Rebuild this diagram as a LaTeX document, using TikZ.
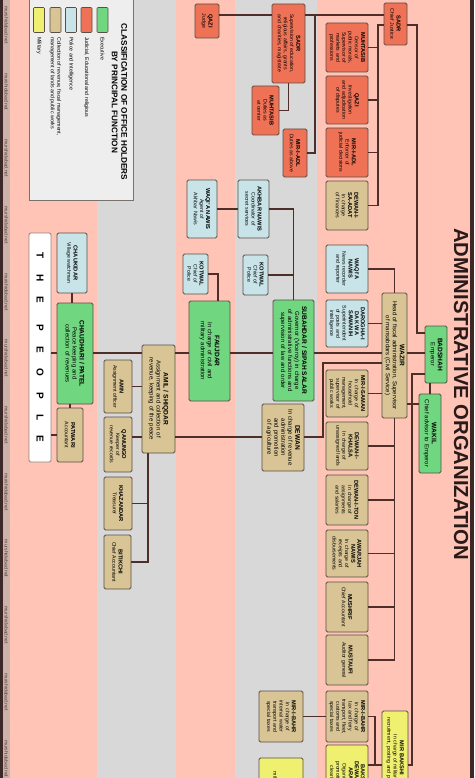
\documentclass[tikz,border=0pt]{standalone}
\usepackage{fontspec}
\setmainfont{Liberation Sans}
\usetikzlibrary{calc}
\hyphenpenalty=10000
\exhyphenpenalty=10000
\definecolor{salmon}{RGB}{255,196,181}
\definecolor{bggrey}{RGB}{216,216,216}
\definecolor{edgedark}{RGB}{60,40,38}
\definecolor{wmstrip}{RGB}{205,178,170}
\definecolor{wmtext}{RGB}{80,62,60}
\definecolor{cgreen}{RGB}{112,214,128}
\definecolor{cred}{RGB}{240,114,86}
\definecolor{cblue}{RGB}{200,228,232}
\definecolor{ctan}{RGB}{216,196,148}
\definecolor{cyellow}{RGB}{240,240,112}
\definecolor{boxline}{RGB}{90,78,70}
\definecolor{linkc}{RGB}{78,46,40}
\definecolor{legbg}{RGB}{238,238,238}
\definecolor{titlec}{RGB}{40,26,26}
\def\obts{5.7}
\newcommand\offbox[9][]{%
 \pgfmathsetmacro\obw{#6-#5}%
 \pgfmathsetmacro\obh{#4-#3}%
 \pgfmathsetmacro\obtw{#6-#5-7}%
 \pgfmathsetmacro\obx{(#3+#4)/2}%
 \pgfmathsetmacro\oby{(#5+#6)/2}%
 \node[ob, fill=#7, minimum width=\obw pt, minimum height=\obh pt, text width=\obtw pt, #1] (#2) at (\obx,\oby) {{\bfseries\fontsize{\obts}{6}\selectfont #8}\\#9};%
}
\tikzset{
 ob/.style={draw=boxline, line width=0.8pt, rounded corners=1.5pt, rotate=-90, align=center, inner sep=1pt, font=\fontsize{5.2}{6.2}\selectfont\def\obts{5.7}},
 bigob/.style={font=\fontsize{6}{7}\selectfont\def\obts{6.6}},
 link/.style={draw=linkc, line width=1.1pt},
 swatch/.style={draw=boxline, line width=0.7pt, rounded corners=1pt, minimum width=11pt, minimum height=25pt, inner sep=0pt},
 leglabel/.style={rotate=-90, anchor=west, inner sep=0pt, align=left, font=\fontsize{5.3}{6.3}\selectfont},
 wm/.style={rotate=-90, inner sep=0pt, font=\fontsize{5}{5.5}\selectfont, text=wmtext},
}
\begin{document}
\begin{tikzpicture}[x=1pt,y=-1pt]
\useasboundingbox (0,0) rectangle (474,778);
% background stripes
\fill[edgedark] (0,0) rectangle (3,778);
\fill[wmstrip] (3,0) rectangle (10,778);
\fill[salmon] (10,0) rectangle (97,778);
\fill[bggrey] (97,0) rectangle (176,778);
\fill[salmon] (176,0) rectangle (235,778);
\fill[bggrey] (235,0) rectangle (317,778);
\fill[salmon] (317,0) rectangle (470,778);
\fill[edgedark] (470,0) rectangle (474,778);
\foreach \k in {0,...,11}{
  \node[wm] (wm\k) at (6.5,{25+66.7*\k}) {murshidabad.net};
}
% title
\node[rotate=-90, inner sep=0pt, text=titlec, font=\fontsize{20.3}{24}\selectfont\bfseries] (title) at (461,394) {ADMINISTRATIVE ORGANIZATION};
% legend
\node[draw=boxline!80, fill=legbg, line width=0.8pt, minimum width=104pt, minimum height=205pt, inner sep=0pt] (legend) at (81,97.5) {};
\node[rotate=-90, align=center, inner sep=0pt, font=\fontsize{8.2}{9.5}\selectfont\bfseries] (legtitle) at (119.5,102) {CLASSIFICATION OF OFFICE HOLDERS\\BY PRINCIPAL FUNCTION};
\node[swatch, fill=cgreen] (sw1) at (102.5,20) {};
\node[swatch, fill=cred] (sw2) at (86.5,20) {};
\node[swatch, fill=cblue] (sw3) at (71,20) {};
\node[swatch, fill=ctan] (sw4) at (55.5,20) {};
\node[swatch, fill=cyellow] (sw5) at (39,20) {};
\node[leglabel] (lb1) at (102.5,37) {Executive};
\node[leglabel] (lb2) at (86.5,37) {Judicial, Educational and religious};
\node[leglabel] (lb3) at (71,37) {Police and Intelligence};
\node[leglabel] (lb4) at (55.5,37) {Collection of revenue, fiscal management,\\management of lands and public works};
\node[leglabel] (lb5) at (39,37) {Military};
% the people
\node[rotate=-90, draw=boxline!70, fill=white, line width=0.8pt, rounded corners=1.5pt, minimum width=229pt, minimum height=22pt, inner sep=0pt, font=\fontsize{10}{12}\selectfont\bfseries] (people) at (40,347.5) {T\hspace{15.4pt}H\hspace{15.4pt}E\hspace{21.3pt}P\hspace{15.4pt}E\hspace{15.4pt}O\hspace{15.4pt}P\hspace{15.4pt}L\hspace{15.4pt}E};
% central level
\offbox{sadrcj}{384}{407}{3}{45}{cred}{SADR}{Chief Justice}
\offbox{muhc}{326}{368}{23}{72}{cred}{MUHTASIB}{Censor of public morals, Supervisor of markets and professions}
\offbox{qazic}{326}{368}{76}{124}{cred}{QAZI}{Investigation and adjudication of disputes}
\offbox{miradlc}{326}{368}{128}{177}{cred}{MIR-I-ADL}{Enforcer of judicial decisions}
\offbox{dsa}{326}{368}{181}{230}{ctan}{DEWAN-I-\\SA-ADAT}{In charge of finances}
\offbox{waqiac}{326}{368}{245}{293}{cblue}{WAQI'A\\NAWIS}{News recorder and reporter}
\offbox{darogha}{326}{368}{300}{347}{cblue}{DAROGHA-I\\DAK WA\\SAWANIH}{Superintendent of posts and intelligence}
\offbox{mirsaman}{326}{368}{370}{417}{ctan}{MIR-I-SAMAN}{In charge of household management, supervisor of public works}
\offbox{dkhalsa}{326}{368}{422}{470}{ctan}{DEWAN-I-\\KHALSA}{In charge of unassigned lands}
\offbox{dton}{326}{368}{475}{525}{ctan}{DEWAN-I-TON}{In charge of assignments and salaries}
\offbox{awarjah}{326}{368}{530}{577}{ctan}{AWARJAH\\NAWIS}{In charge of receipts and disbursements}
\offbox{mushrif}{326}{368}{582}{632}{ctan}{MUSHRIF}{Chief Accountant}
\offbox{mustaufi}{326}{368}{635}{685}{ctan}{MUSTAUFI}{Auditor general}
\offbox{mibc}{326}{368}{691}{742}{ctan}{MIR-I-BAHR}{In charge of tax and ferry transport, fleet, customs and special taxes}
\offbox{bda}{326}{368}{745}{805}{cyellow}{BAKSHI\\DEWAN-I-\\ARAZ}{Organizes\\promotions,\\clearing}
\offbox[bigob, text width=118pt]{wazir}{382}{407}{293}{418}{ctan}{WAZIR}{Head of fiscal administration, Supervisor of mansabdars (Civil Service)}
\offbox{mirbak}{382}{408}{711}{805}{cyellow}{MIR BAKSHI}{In charge of military\\recruitment, posting and promotion}
\offbox[bigob]{badshah}{425}{447}{326}{383}{cgreen}{BADSHAH}{Emperor}
\offbox[bigob, text width=74pt]{wakil}{419}{441}{394}{473}{cgreen}{WAKIL}{Chief advisor to Emperor}
% provincial level
\offbox{sadrp}{272}{305}{4}{83}{cred}{SADR}{Supervision of education, religious affairs, grants and charities, magistrate}
\offbox{qazip}{195}{219}{4}{38}{cred}{QAZI}{Judge}
\offbox{muhp}{252}{279}{86}{135}{cred}{MUHTASIB}{Duties as at center}
\offbox{miradlp}{283}{307}{129}{177}{cred}{MIR-I-ADL}{Duties as above}
\offbox{akhbar}{238}{269}{180}{238}{cblue}{AKHBAR NAWIS}{Coordinator of secret services}
\offbox{waqiap}{187}{217}{180}{238}{cblue}{WAQI'A NAWIS}{Agent of Akhbar Nawis}
\offbox{kotwalp}{243}{268}{255}{295}{cblue}{KOTWAL}{Chief of Police}
\offbox{kotwald}{183}{208}{254}{294}{cblue}{KOTWAL}{Chief of Police}
\offbox[bigob]{subahdar}{273}{314}{300}{401}{cgreen}{SUBAHDAR / SIPAH SALAR}{Governor (Viceroy) in charge of administrative functions and supervision of law and order}
\offbox[bigob]{faujdar}{189}{230}{301}{401}{cgreen}{FAUJDAR}{In charge of civil and military administration}
\offbox[bigob]{dewanp}{262}{304}{404}{471}{ctan}{DEWAN}{In charge of revenue administration and promotion of agriculture}
\offbox[bigob]{amil}{142}{175}{345}{453}{ctan}{AMIL / SHIQDAR}{Assignment and collection of revenue, keeping of the peace}
\offbox{mibp}{259}{303}{691}{742}{ctan}{MIR-I-BAHR}{In charge of internal water transport and special taxes}
\offbox{bakp}{259}{303}{758}{830}{cyellow}{BAKSHI}{In charge of military recruitment}
% local level
\offbox[bigob]{chaud}{57}{93}{303}{404}{cgreen}{CHAUDHARI / PATEL}{Peace keeping and collection of revenues}
\offbox{chauk}{57}{87}{233}{293}{cblue}{CHAUKIDAR}{Village watchman}
\offbox{patwari}{57}{83}{408}{462}{ctan}{PATWARI}{Accountant}
\offbox{amin}{104}{132}{360}{413}{ctan}{AMIN}{Assignment officer}
\offbox{qanungo}{104}{132}{417}{472}{ctan}{QANUNGO}{Keeper of revenue records}
\offbox{khaz}{104}{132}{477}{530}{ctan}{KHAZANDAR}{Treasurer}
\offbox{bitik}{104}{131}{535}{589}{ctan}{BITIKCHI}{Chief Accountant}
% junction coordinates
\coordinate (jA) at (378,25);
\coordinate (jB) at (417,25);
\coordinate (yB) at (0,333);
\coordinate (jC) at (315,15);
\coordinate (jD) at (148,453);
\coordinate (jE) at (323,363);
\coordinate (jG) at (375,765);
\coordinate (jH) at (412,374);
\coordinate (yM) at (0,353);
\coordinate (yQ) at (0,437);
\coordinate (yW) at (0,404);
% connectors: judicial
\draw[link] (sadrcj.south |- jA) -- (jA) |- (dsa.north);
\draw[link] (jA |- muhc.north) -- (muhc.north);
\draw[link] (jA |- qazic.north) -- (qazic.north);
\draw[link] (jA |- miradlc.north) -- (miradlc.north);
\draw[link] (sadrcj.north |- jB) -- (jB) |- (badshah.south |- yB);
\draw[link] (sadrcj.south |- jC) -- (sadrp.north |- jC);
\draw[link] (jC) |- (miradlp.north);
\draw[link] (qazip.north |- jC) -- (sadrp.south |- jC);
\draw[link] (sadrp.east) |- (muhp.north);
% police / intelligence
\draw[link] (akhbar.south) -- (waqiap.north);
\draw[link] (akhbar.north) -| (subahdar.west);
\draw[link] (kotwalp.north) -- (kotwalp.north -| subahdar.west);
\draw[link] (kotwald.north) -| ([xshift=8.5pt]faujdar.west);
% main chain
\draw[link] (people.north |- yM) -- (chaud.south |- yM);
\draw[link] (chaud.north |- yM) -- (amil.south |- yM);
\draw[link] (amil.north |- yM) -- (faujdar.south |- yM);
\draw[link] (faujdar.north |- yM) -- (subahdar.south |- yM);
\draw[link] (subahdar.north |- yM) -- (wazir.south |- yM);
\draw[link] (wazir.north |- yM) -- (badshah.south |- yM);
% village
\draw[link] (chauk.east) -- (chauk.east |- chaud.west);
\draw[link] (patwari.west |- chaud.east) -- (patwari.west);
\draw[link] (patwari.south) -- (patwari.south -| people.north);
% district revenue
\draw[link] (amin.north) -- (amin.north -| amil.south);
\draw[link] (qanungo.north |- yQ) -- (amil.south |- yQ);
\draw[link] (jD) |- (bitik.north);
\draw[link] (khaz.north) -- (khaz.north -| jD);
\draw[link] (dewanp.south |- yQ) -- (amil.north |- yQ);
\draw[link] (dewanp.north |- yQ) -| (jE) -- (jE -| wazir.south);
% wazir subordinates
\draw[link] (waqiac.north) -| (wazir.west);
\draw[link] (darogha.north) -- (darogha.north -| wazir.south);
\draw[link] (mirsaman.north) -- (mirsaman.north -| wazir.south);
\draw[link] (wazir.east) |- (mustaufi.north);
\draw[link] (wazir.east |- dkhalsa.north) -- (dkhalsa.north);
\draw[link] (wazir.east |- dton.north) -- (dton.north);
\draw[link] (wazir.east |- awarjah.north) -- (awarjah.north);
\draw[link] (wazir.east |- mushrif.north) -- (mushrif.north);
% naval / military
\draw[link] (mibp.north) -- (mibc.south);
\draw[link] (mibc.north) -| (jG);
\draw[link] (bda.north |- jG) -- (mirbak.south |- jG);
\draw[link] (badshah.south |- jH) -- (jH) |- (mirbak.north |- jG);
% emperor / wakil
\draw[link] (wakil.west) -- (wakil.west |- badshah.east);
\draw[link] (wazir.north |- yW) -- (wakil.south |- yW);
\end{tikzpicture}
\end{document}
